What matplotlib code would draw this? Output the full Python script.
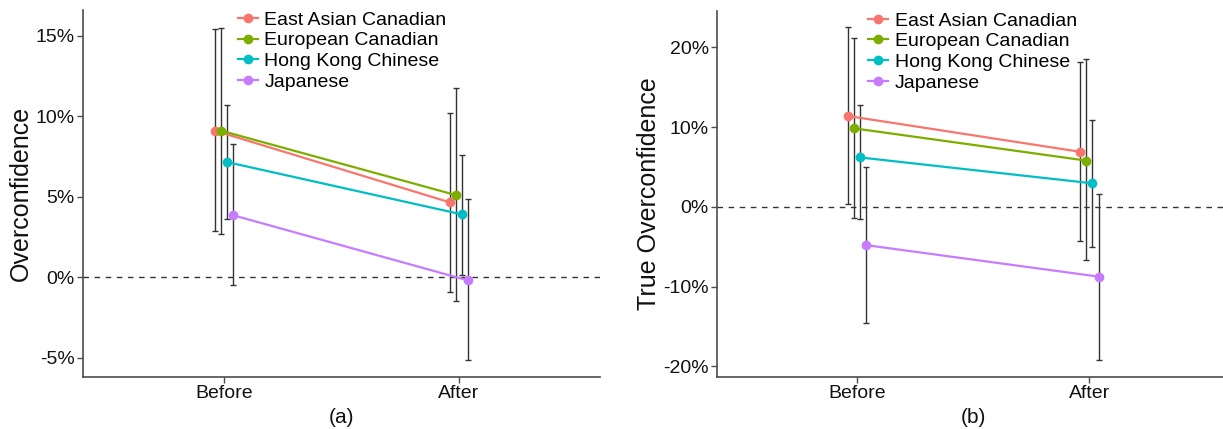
import numpy as np
import matplotlib
matplotlib.use("Agg")
import matplotlib.pyplot as plt
from matplotlib.lines import Line2D

plt.rcParams['font.family'] = ['Liberation Sans', 'DejaVu Sans']

groups = ["East Asian Canadian", "European Canadian", "Hong Kong Chinese", "Japanese"]
colors = ["#F8766D", "#7CAE00", "#00BFC4", "#C77CFF"]
times = ["Before", "After"]

# panel (a): overconfidence, percent  [before, after]
a_mean = [[9.1, 4.65], [9.1, 5.1], [7.15, 3.9], [3.85, -0.2]]
a_low = [[2.9, -0.9], [2.7, -1.5], [3.6, 0.15], [-0.5, -5.15]]
a_high = [[15.4, 10.2], [15.5, 11.75], [10.7, 7.6], [8.25, 4.85]]

# panel (b): true overconfidence, percent
b_mean = [[11.4, 6.9], [9.85, 5.8], [6.2, 2.95], [-4.8, -8.75]]
b_low = [[0.3, -4.3], [-1.4, -6.7], [-1.5, -5.05], [-14.55, -19.25]]
b_high = [[22.6, 18.2], [21.2, 18.5], [12.8, 10.9], [4.95, 1.65]]

text_col = "#111111"
axis_col = "#4d4d4d"


def draw_panel(ax, mean, low, high, ylabel, yticks, ylim, tag, leg_x):
    x = np.arange(1, len(times) + 1)
    step = 0.026
    offsets = (np.arange(len(groups)) - 1.5) * step
    for i, g in enumerate(groups):
        xs = x + offsets[i]
        m = np.array(mean[i])
        lo = m - np.array(low[i])
        hi = np.array(high[i]) - m
        ax.errorbar(xs, m, yerr=[lo, hi], fmt="none", ecolor="#333333",
                    elinewidth=1.0, capsize=2.5, capthick=1.0, zorder=2)
        ax.plot(xs, m, color=colors[i], lw=1.6, zorder=3)
        ax.plot(xs, m, "o", color=colors[i], ms=6, zorder=4)
    ax.axhline(0, color="#333333", ls=(0, (4, 4)), lw=1.0, zorder=1)

    ax.set_xlim(0.4, 2.6)
    ax.set_ylim(*ylim)
    ax.set_xticks(x)
    ax.set_xticklabels(times)
    ax.set_yticks(yticks)
    ax.set_yticklabels([f"{v}%" for v in yticks])
    ax.set_ylabel(ylabel, fontsize=18, color=text_col, labelpad=2)
    ax.set_xlabel(tag, fontsize=15, color=text_col, labelpad=4)
    for s in ["top", "right"]:
        ax.spines[s].set_visible(False)
    for s in ["left", "bottom"]:
        ax.spines[s].set_color(axis_col)
        ax.spines[s].set_linewidth(1.2)
    ax.tick_params(axis="both", colors=axis_col, labelcolor=text_col,
                   labelsize=14, length=4, width=1.0, pad=2)

    handles = [Line2D([0], [0], color=c, lw=1.6, marker="o", ms=6) for c in colors]
    ax.legend(handles, groups, loc="upper left", bbox_to_anchor=(leg_x, 1.018),
              frameon=False, fontsize=14, handlelength=1.0, handletextpad=0.35,
              labelspacing=0.16, borderaxespad=0)


fig = plt.figure(figsize=(12.23, 4.29), dpi=100)
ax1 = fig.add_axes([0.0679, 0.122, 0.4227, 0.855])
ax2 = fig.add_axes([0.5865, 0.122, 0.4184, 0.853])

draw_panel(ax1, a_mean, a_low, a_high, "Overconfidence",
           [-5, 0, 5, 10, 15], (-6.17, 16.6), "(a)", 0.285)
draw_panel(ax2, b_mean, b_low, b_high, "True Overconfidence",
           [-20, -10, 0, 10, 20], (-21.3, 24.6), "(b)", 0.28)

fig.savefig("out.png", dpi=100)
